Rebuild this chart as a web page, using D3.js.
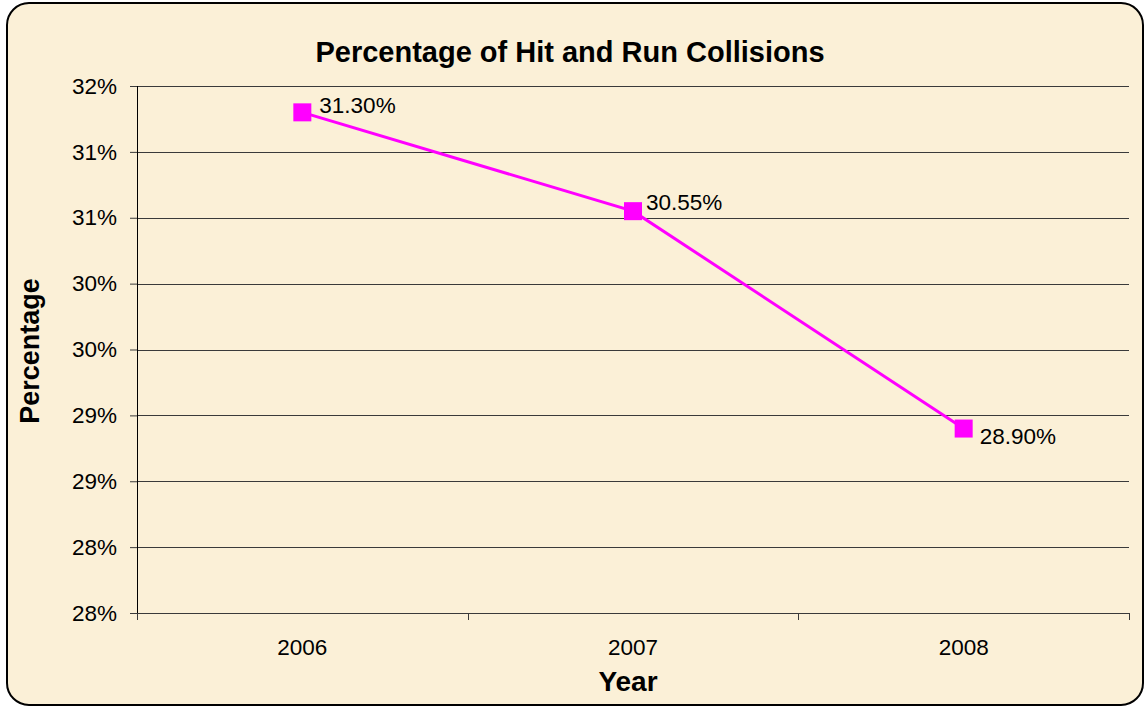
<!DOCTYPE html>
<html>
<head>
<meta charset="utf-8">
<script src="https://cdn.jsdelivr.net/npm/d3@7"></script>
<style>
  body { margin: 0; background: #fff; }
  text { font-family: "Liberation Sans", Arial, sans-serif; fill: #000; }
</style>
</head>
<body>
<div class="chart"></div>
<script>
// data
const years = ["2006", "2007", "2008"];
const percentages = [31.30, 30.55, 28.90];
const valueLabels = ["31.30%", "30.55%", "28.90%"];
// y ticks every half percent, labels as the original shows them (rounded)
const yTickValues = [27.5, 28, 28.5, 29, 29.5, 30, 30.5, 31, 31.5];
const yTickLabels = ["28%", "28%", "29%", "29%", "30%", "30%", "31%", "31%", "32%"];

const svgWidth = 1145;
const svgHeight = 708;
const margin = { top: 86, right: 16, bottom: 95, left: 137 };
const width = svgWidth - margin.left - margin.right;
const height = svgHeight - margin.top - margin.bottom;
const labelSize = 22.5;
// value label nudges (the labels were moved by hand in the original)
const labelDx = [17, 13, 16];
const labelDy = [1, -1.5, 15];

const svg = d3.select(".chart")
  .append("svg")
  .attr("width", svgWidth)
  .attr("height", svgHeight);

// chart background and rounded border
svg.append("rect")
  .attr("x", 7)
  .attr("y", 3)
  .attr("width", 1136)
  .attr("height", 702)
  .attr("rx", 22)
  .attr("ry", 22)
  .attr("fill", "#fbf0d7")
  .attr("stroke", "#000")
  .attr("stroke-width", 2);

const g = svg.append("g")
  .attr("transform", "translate(" + margin.left + "," + margin.top + ")");

const x = d3.scaleBand().domain(years).range([0, width]);
const y = d3.scaleLinear().domain([27.5, 31.5]).range([height, 0]);

// gridlines
g.append("g")
  .selectAll("line")
  .data(yTickValues)
  .join("line")
  .attr("x1", 0)
  .attr("x2", width)
  .attr("y1", d => Math.round(y(d)) + 0.5)
  .attr("y2", d => Math.round(y(d)) + 0.5)
  .attr("stroke", "#3a3a3a")
  .attr("stroke-width", 1);

// y axis
const yAxis = g.append("g")
  .call(d3.axisLeft(y)
    .tickValues(yTickValues)
    .tickSize(7)
    .tickPadding(13)
    .tickFormat((d, i) => yTickLabels[i]));
yAxis.select(".domain").attr("stroke", "#000").attr("d", "M0.5,0V" + height);
yAxis.selectAll(".tick line").attr("stroke", "#3a3a3a");
yAxis.selectAll(".tick text")
  .attr("font-size", labelSize)
  .attr("font-family", "Liberation Sans, Arial, sans-serif")
  .attr("fill", "#000");

// x axis: ticks at band edges
const xAxis = g.append("g")
  .attr("transform", "translate(0," + height + ")");
xAxis.selectAll("line")
  .data(d3.range(years.length + 1))
  .join("line")
  .attr("x1", i => Math.round(i * x.bandwidth()) + 0.5)
  .attr("x2", i => Math.round(i * x.bandwidth()) + 0.5)
  .attr("y1", 0)
  .attr("y2", 7)
  .attr("stroke", "#3a3a3a");
xAxis.selectAll("text")
  .data(years)
  .join("text")
  .attr("x", d => x(d) + x.bandwidth() / 2)
  .attr("y", 42)
  .attr("text-anchor", "middle")
  .attr("font-size", labelSize)
  .text(d => d);

// line
const line = d3.line()
  .x((d, i) => x(years[i]) + x.bandwidth() / 2)
  .y(d => y(d));

g.append("path")
  .datum(percentages)
  .attr("fill", "none")
  .attr("stroke", "#ff00ff")
  .attr("stroke-width", 3)
  .attr("d", line);

// square markers
const ms = 18;
g.selectAll(".marker")
  .data(percentages)
  .join("rect")
  .attr("class", "marker")
  .attr("x", (d, i) => x(years[i]) + x.bandwidth() / 2 - ms / 2)
  .attr("y", d => y(d) - ms / 2)
  .attr("width", ms)
  .attr("height", ms)
  .attr("fill", "#ff00ff");

// value labels
g.selectAll(".value-label")
  .data(percentages)
  .join("text")
  .attr("class", "value-label")
  .attr("x", (d, i) => x(years[i]) + x.bandwidth() / 2 + labelDx[i])
  .attr("y", (d, i) => y(d) + labelDy[i])
  .attr("font-size", labelSize)
  .text((d, i) => valueLabels[i]);

// title
svg.append("text")
  .attr("x", 570)
  .attr("y", 62)
  .attr("text-anchor", "middle")
  .attr("font-size", 29)
  .attr("font-weight", "bold")
  .text("Percentage of Hit and Run Collisions");

// axis titles
svg.append("text")
  .attr("transform", "translate(39,351) rotate(-90)")
  .attr("text-anchor", "middle")
  .attr("font-size", 27)
  .attr("font-weight", "bold")
  .text("Percentage");

svg.append("text")
  .attr("x", 628)
  .attr("y", 691)
  .attr("text-anchor", "middle")
  .attr("font-size", 28)
  .attr("font-weight", "bold")
  .text("Year");
</script>
</body>
</html>
